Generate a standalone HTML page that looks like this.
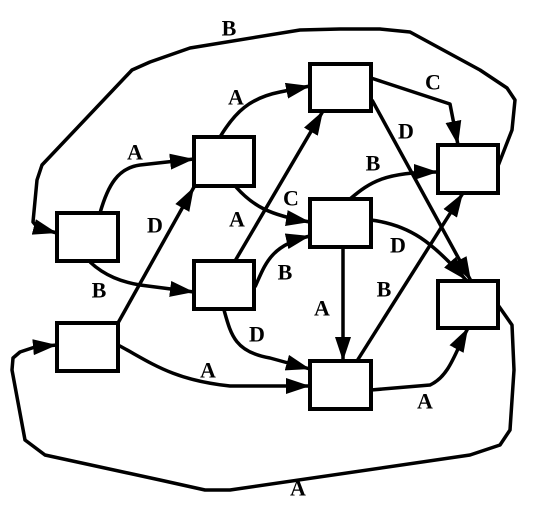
<!DOCTYPE html>
<html><head><meta charset="utf-8"><style>
html,body{margin:0;padding:0;background:#fff;}
svg{display:block;}
text{font-family:"Liberation Serif",serif;font-weight:bold;font-size:22px;fill:#000;}
</style></head><body>
<svg width="557" height="513" viewBox="0 0 557 513">
<defs>
<marker id="ar" markerUnits="userSpaceOnUse" markerWidth="26" markerHeight="16" refX="24" refY="8" orient="auto">
<path d="M0,0 L24,8 L0,16 Z" fill="#000"/>
</marker>
</defs>
<g fill="none" stroke="#000" stroke-width="4">
<rect x="57" y="213" width="61" height="48"/>
<rect x="57" y="323" width="61" height="48"/>
<rect x="194" y="137" width="60" height="49"/>
<rect x="194" y="261" width="60" height="48"/>
<rect x="310" y="64" width="61" height="47"/>
<rect x="310" y="199" width="61" height="48"/>
<rect x="310" y="361" width="61" height="48"/>
<rect x="438" y="145" width="60" height="48"/>
<rect x="438" y="281" width="60" height="47"/>
</g>
<g fill="none" stroke="#000" stroke-width="3.5" stroke-linejoin="round">
<path marker-end="url(#ar)" d="M100,213 C108,185 118,168 140,165 L194,159"/>
<path marker-end="url(#ar)" d="M90,262 C105,276 122,282 140,285 L194,292"/>
<path marker-end="url(#ar)" d="M118,323 L194,187"/>
<path marker-end="url(#ar)" d="M118,345 C150,362 172,380 230,386 L310,386"/>
<path marker-end="url(#ar)" d="M220,137 C235,112 250,98 280,92 L310,86"/>
<path marker-end="url(#ar)" d="M236,187 C252,205 268,215 310,222"/>
<path marker-end="url(#ar)" d="M235,261 L323,111"/>
<path marker-end="url(#ar)" d="M255,287 C265,265 270,245 310,236"/>
<path marker-end="url(#ar)" d="M224,310 C231,335 235,352 270,358 L310,369"/>
<path marker-end="url(#ar)" d="M371,78 L450,104 L458,145"/>
<path marker-end="url(#ar)" d="M372,100 L471,281"/>
<path marker-end="url(#ar)" d="M350,199 C370,182 385,172 438,172"/>
<path marker-end="url(#ar)" d="M371,220 C410,225 432,242 466,280"/>
<path marker-end="url(#ar)" d="M343,247 L343,361"/>
<path marker-end="url(#ar)" d="M357,361 L463,193"/>
<path marker-end="url(#ar)" d="M371,390 L430,385 C450,376 456,350 468,328"/>
<path marker-end="url(#ar)" d="M498,166 L512,130 L515,100 L507,88 L480,70 L410,32 L380,29 L340,29 L300,30 L190,48 L150,62 L132,70 L42,165 L37,180 L33,222 L38,228 L57,233"/>
<path marker-end="url(#ar)" d="M498,305 L512,325 L514,370 L510,430 L500,445 L470,455 L230,490 L205,490 L160,480 L45,455 L25,440 L12,370 L13,358 L20,352 L35,347 L57,345"/>
</g>
<g text-anchor="middle" dominant-baseline="central">
<text x="229" y="28">B</text>
<text x="135" y="152">A</text>
<text x="99" y="290">B</text>
<text x="155" y="225">D</text>
<text x="208" y="370">A</text>
<text x="236" y="97">A</text>
<text x="291" y="198">C</text>
<text x="237" y="219">A</text>
<text x="285" y="272">B</text>
<text x="257" y="334">D</text>
<text x="433" y="82">C</text>
<text x="406" y="131">D</text>
<text x="373" y="163">B</text>
<text x="398" y="245">D</text>
<text x="322" y="308">A</text>
<text x="384" y="289">B</text>
<text x="425" y="401">A</text>
<text x="298" y="488">A</text>
</g>
</svg>
</body></html>
